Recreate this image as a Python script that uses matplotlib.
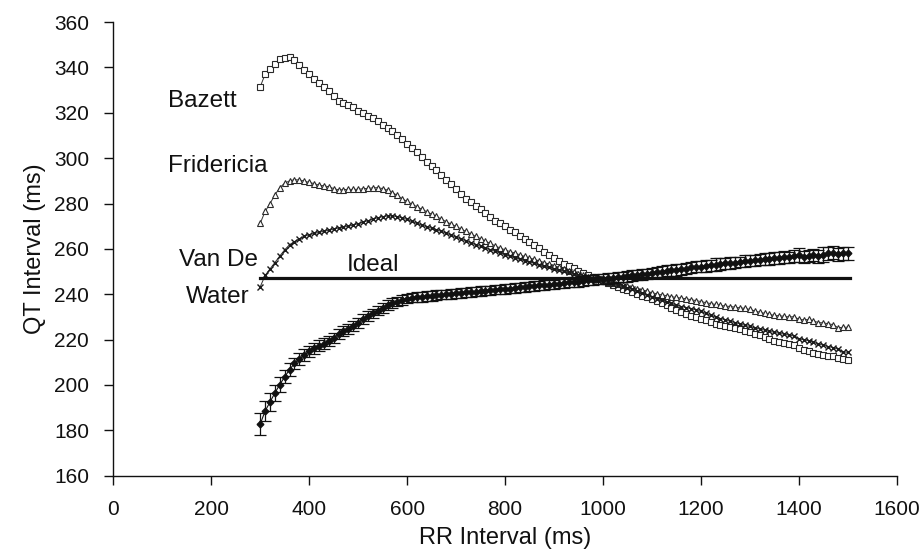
import numpy as np
import matplotlib
matplotlib.use("Agg")
import matplotlib.pyplot as plt

plt.rcParams["font.family"] = ["Liberation Sans", "DejaVu Sans"]

# RR interval (ms), one point every 10 ms from 300 to 1500
rr = np.arange(300, 1501, 10)

bazett = [
    331.5, 337.0, 339.2, 341.6, 343.6, 344.3, 344.4, 343.2, 341.0, 339.0,
    337.2, 335.0, 333.0, 331.5, 329.4, 327.3, 325.4, 324.4, 323.6, 322.4,
    321.0, 319.9, 318.7, 317.6, 316.5, 314.8, 313.3, 311.8, 310.0, 308.3,
    306.3, 304.5, 302.8, 300.5, 298.4, 296.6, 294.7, 292.6, 290.5, 288.7,
    286.3, 284.0, 282.2, 280.6, 279.0, 277.5, 275.8, 274.2, 272.5, 271.2,
    269.9, 268.3, 267.3, 265.6, 264.2, 262.9, 261.6, 260.2, 258.6, 257.2,
    256.0, 254.6, 253.4, 252.4, 251.4, 250.1, 249.2, 248.3, 247.4, 246.6,
    245.8, 245.0, 244.1, 243.3, 242.5, 241.8, 241.0, 240.1, 239.3, 238.6,
    237.8, 237.0, 236.2, 235.2, 234.0, 233.0, 232.2, 231.4, 230.6, 229.8,
    229.2, 228.5, 227.7, 227.0, 226.4, 226.0, 225.6, 225.2, 224.8, 224.0,
    223.2, 222.5, 221.9, 221.2, 220.4, 219.6, 219.1, 218.6, 218.2, 217.8,
    216.2, 215.3, 215.0, 214.3, 213.6, 213.0, 212.7, 212.6, 211.7, 211.3,
    211.1,
]

fridericia = [
    271.3, 276.5, 280.0, 283.8, 287.0, 289.0, 290.0, 290.5, 290.4, 289.9,
    289.3, 288.8, 288.1, 287.8, 287.4, 286.6, 286.0, 286.1, 286.3, 286.2,
    286.3, 286.5, 286.7, 286.9, 287.0, 286.6, 285.9, 284.8, 283.6, 282.1,
    280.9, 279.7, 278.6, 277.5, 276.4, 275.3, 274.3, 273.1, 272.0, 270.9,
    269.9, 268.8, 267.7, 266.6, 265.5, 264.5, 263.4, 262.4, 261.3, 260.4,
    259.6, 258.8, 258.2, 257.4, 256.7, 256.0, 255.4, 254.7, 254.0, 253.3,
    252.6, 251.8, 251.1, 250.4, 249.7, 249.0, 248.4, 247.8, 247.3, 246.7,
    246.2, 245.6, 245.1, 244.5, 244.0, 243.5, 243.0, 242.4, 241.9, 241.3,
    240.7, 240.2, 239.7, 239.4, 238.9, 238.6, 238.3, 238.0, 237.6, 237.2,
    236.8, 236.3, 235.9, 235.5, 235.1, 234.8, 234.6, 234.3, 234.0, 233.8,
    233.3, 232.7, 232.1, 231.6, 231.1, 230.7, 230.5, 230.3, 230.0, 230.1,
    229.0, 228.7, 228.9, 228.3, 227.5, 227.4, 227.0, 226.6, 225.3, 225.4,
    225.5,
]

van_de_water = [
    243.3, 248.3, 251.2, 254.0, 256.9, 259.6, 261.9, 263.2, 264.5, 265.5,
    266.3, 266.8, 267.3, 267.8, 268.2, 268.7, 269.2, 269.6, 270.0, 270.5,
    271.1, 271.8, 272.4, 273.1, 273.7, 274.2, 274.5, 274.5, 274.2, 273.6,
    273.0, 272.1, 271.3, 270.5, 269.8, 269.1, 268.4, 267.7, 267.0, 266.0,
    265.2, 264.4, 263.6, 262.7, 261.9, 261.1, 260.4, 259.6, 258.9, 258.2,
    257.4, 256.7, 256.0, 255.4, 254.8, 254.2, 253.6, 253.0, 252.4, 251.9,
    251.3, 250.8, 250.3, 249.7, 249.1, 248.6, 248.0, 247.5, 246.9, 246.4,
    245.9, 245.3, 244.7, 244.1, 243.5, 242.9, 242.2, 241.4, 240.6, 239.8,
    238.9, 238.0, 237.3, 236.6, 236.0, 235.3, 234.6, 234.1, 233.6, 233.1,
    232.4, 231.6, 230.7, 230.0, 229.3, 228.7, 228.1, 227.5, 226.9, 226.3,
    225.8, 225.2, 224.7, 224.2, 223.7, 223.2, 222.8, 222.4, 222.0, 221.6,
    220.4, 219.9, 219.5, 218.9, 218.0, 217.6, 216.9, 216.5, 215.8, 214.6,
    214.4,
]

raw_qt = [
    182.8, 188.5, 192.5, 196.5, 200.2, 203.6, 206.8, 209.5, 211.4, 213.2,
    214.8, 216.2, 217.4, 218.2, 219.4, 220.8, 222.3, 223.6, 224.6, 225.9,
    227.4, 229.0, 230.3, 231.6, 232.8, 234.0, 235.2, 236.1, 236.8, 237.5,
    238.1, 238.5, 238.7, 238.9, 239.2, 239.3, 239.6, 239.8, 239.9, 240.2,
    240.4, 240.5, 240.8, 240.9, 241.2, 241.4, 241.6, 241.7, 242.0, 242.1,
    242.3, 242.5, 242.8, 243.0, 243.2, 243.5, 243.6, 243.9, 244.1, 244.3,
    244.4, 244.7, 244.9, 245.2, 245.4, 245.6, 245.9, 246.1, 246.3, 246.6,
    246.8, 247.0, 247.2, 247.5, 247.7, 247.9, 248.3, 248.4, 248.8, 249.0,
    249.4, 249.8, 250.0, 250.4, 250.6, 250.7, 251.1, 251.3, 251.8, 252.1,
    252.2, 252.5, 252.8, 253.1, 253.4, 253.6, 253.7, 253.9, 254.2, 254.6,
    254.8, 254.9, 255.2, 255.4, 255.6, 255.9, 256.0, 256.5, 256.3, 256.8,
    257.2, 256.4, 257.0, 257.3, 256.7, 257.5, 258.0, 258.4, 257.6, 258.0,
    258.1,
]

raw_err = [
    4.8, 4.3, 3.8, 3.4, 3.1, 2.9, 2.7, 2.6, 2.5, 2.5,
    2.4, 2.4, 2.3, 2.3, 2.3, 2.2, 2.2, 2.2, 2.2, 2.2,
    2.2, 2.1, 2.1, 2.1, 2.1, 2.1, 2.1, 2.1, 2.1, 2.1,
    2.1, 2.1, 2.1, 2.1, 2.1, 2.1, 2.1, 2.1, 2.1, 2.1,
    2.1, 2.1, 2.1, 2.1, 2.1, 2.1, 2.1, 2.1, 2.1, 2.1,
    2.1, 2.1, 2.2, 2.1, 2.1, 2.1, 2.2, 2.1, 2.1, 2.2,
    2.1, 2.1, 2.2, 2.1, 2.2, 2.2, 2.2, 2.2, 2.3, 2.2,
    2.2, 2.3, 2.2, 2.3, 2.2, 2.3, 2.4, 2.3, 2.5, 2.3,
    2.3, 2.4, 2.6, 2.3, 2.4, 2.5, 2.4, 2.4, 2.6, 2.5,
    2.4, 2.5, 2.4, 2.7, 2.5, 2.4, 2.6, 2.5, 2.4, 2.6,
    2.5, 2.6, 2.5, 2.7, 2.5, 2.6, 2.8, 2.6, 2.5, 2.7,
    3.0, 2.7, 2.6, 2.8, 2.7, 3.2, 2.8, 2.7, 3.0, 2.8,
    2.8,
]

ideal_qt = 247
ideal_rr = [300, 1505]

ink = "#111111"

fig = plt.figure(figsize=(9.23, 5.59), dpi=100)
ax = fig.add_axes([0.1228, 0.149, 0.8487, 0.8115])

ax.plot(rr, bazett, color="#333333", lw=0.7, marker="s", ms=4.5,
        mfc="white", mec="#2a2a2a", mew=0.8, clip_on=False, zorder=3)
ax.plot(rr, fridericia, color="#333333", lw=0.7, marker="^", ms=4.5,
        mfc="white", mec="#2a2a2a", mew=0.8, clip_on=False, zorder=3)
ax.plot(rr, van_de_water, color="#333333", lw=0.7, marker="x", ms=4.8,
        mec="#1a1a1a", mew=1.0, clip_on=False, zorder=3)
ax.errorbar(rr, raw_qt, yerr=raw_err, fmt="-D", color=ink, lw=0.8, ms=3.4,
            mfc=ink, mec=ink, ecolor=ink, elinewidth=0.9, capsize=4.0,
            capthick=0.9, clip_on=False, zorder=4)
ax.plot(ideal_rr, [ideal_qt, ideal_qt], color=ink, lw=2.3, zorder=5)

lbl = dict(fontsize=17.5, color=ink, va="center")
ax.text(112, 325.0, "Bazett", ha="left", **lbl)
ax.text(112, 296.7, "Fridericia", ha="left", **lbl)
ax.text(214, 255.3, "Van De", ha="center", **lbl)
ax.text(214, 238.6, "Water", ha="center", **lbl)
ax.text(476, 252.7, "Ideal", ha="left", **lbl)

ax.set_xlim(0, 1600)
ax.set_ylim(160, 360)
ax.set_xticks(range(0, 1601, 200))
ax.set_yticks(range(160, 361, 20))
ax.tick_params(direction="out", length=6.5, width=1, colors=ink,
               labelsize=15)
ax.tick_params(axis="y", pad=11)
ax.tick_params(axis="x", pad=11)
for side in ("top", "right"):
    ax.spines[side].set_visible(False)
for side in ("left", "bottom"):
    ax.spines[side].set_color(ink)
    ax.spines[side].set_linewidth(1)

ax.set_xlabel("RR Interval (ms)", fontsize=17, color=ink, labelpad=6)
ax.set_ylabel("QT Interval (ms)", fontsize=17, color=ink, labelpad=6)

fig.savefig("out.png", dpi=100)
